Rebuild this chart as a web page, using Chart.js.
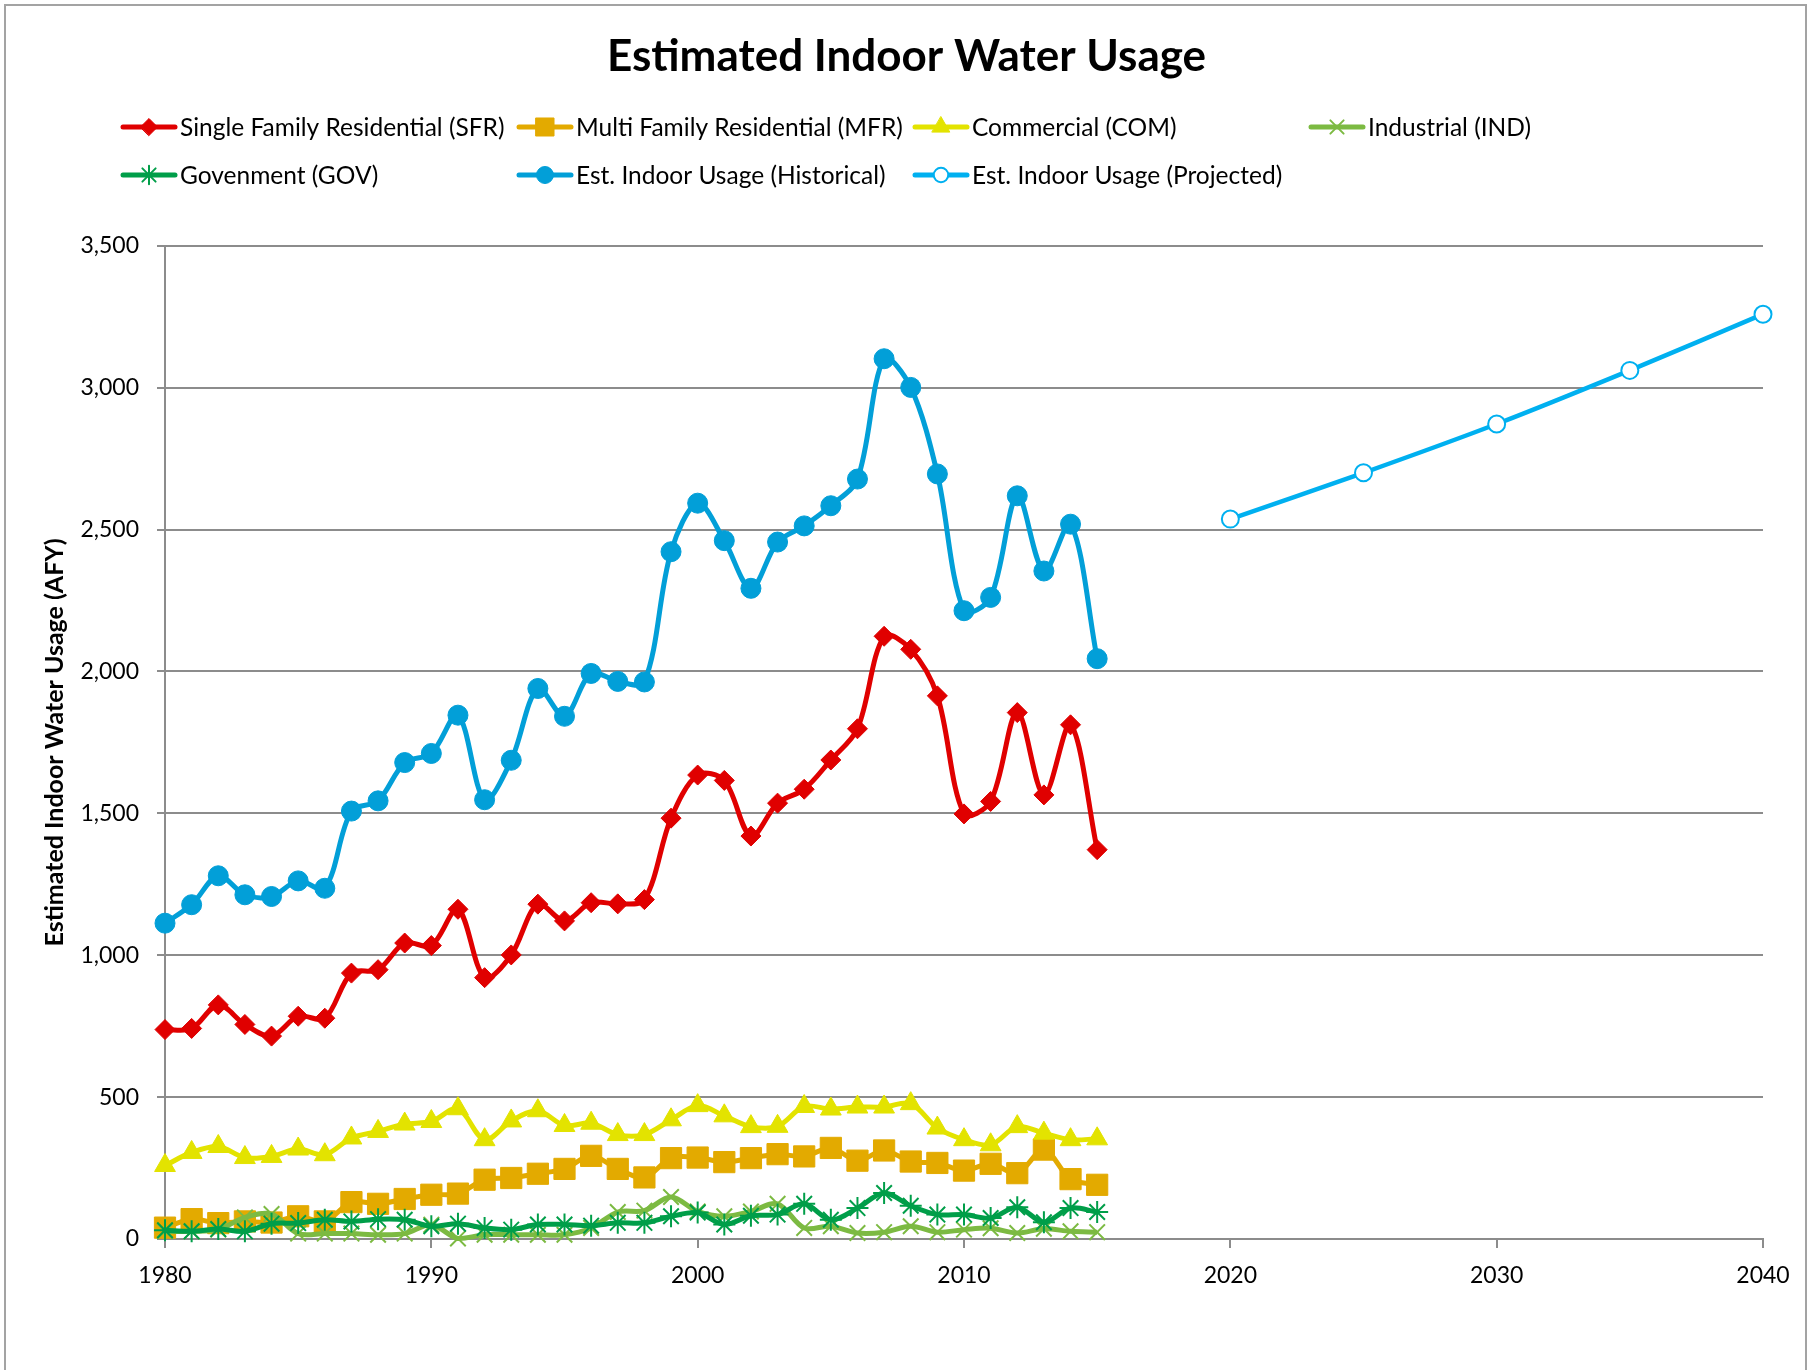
<!DOCTYPE html>
<html lang="en">
<head>
<meta charset="UTF-8">
<title>Estimated Indoor Water Usage</title>
<script src="https://cdn.jsdelivr.net/npm/chart.js"></script>
<style>
    body { margin: 0; background: #fff; }
    #wrap { width: 1813px; height: 1370px; }
</style>
</head>
<body>
<div id="wrap"><canvas id="chart1" width="1813" height="1370"></canvas></div>
<script>
// historical years (yearly) and projection years
const years = [1980, 1981, 1982, 1983, 1984, 1985, 1986, 1987, 1988, 1989,
               1990, 1991, 1992, 1993, 1994, 1995, 1996, 1997, 1998, 1999,
               2000, 2001, 2002, 2003, 2004, 2005, 2006, 2007, 2008, 2009,
               2010, 2011, 2012, 2013, 2014, 2015];
const projYears = [2020, 2025, 2030, 2035, 2040];

// AFY values
const sfr = [738, 742, 825, 756, 715, 785, 778, 937, 949, 1043,
             1034, 1162, 921, 1001, 1180, 1121, 1185, 1181, 1196, 1483,
             1635, 1616, 1420, 1536, 1585, 1688, 1798, 2124, 2078, 1914,
             1498, 1542, 1855, 1565, 1812, 1372];
const mfr = [40, 70, 56, 62, 58, 80, 62, 130, 124, 141,
             156, 160, 209, 215, 230, 247, 293, 247, 217, 285,
             287, 271, 285, 299, 291, 321, 276, 312, 273, 268,
             241, 265, 232, 315, 211, 191];
const com = [259, 305, 326, 287, 291, 317, 297, 356, 379, 405,
             414, 459, 350, 416, 452, 400, 408, 368, 368, 420,
             470, 434, 396, 397, 467, 458, 465, 465, 477, 391,
             350, 332, 396, 373, 350, 353];
const ind = [27, 27, 33, 76, 88, 19, 19, 19, 15, 19,
             50, 2, 15, 15, 15, 15, 39, 95, 100, 148,
             97, 80, 97, 124, 39, 45, 21, 24, 45, 24,
             33, 38, 21, 36, 27, 24];
const gov = [31, 27, 35, 27, 54, 56, 68, 62, 70, 68,
             45, 54, 39, 33, 51, 51, 47, 57, 57, 80,
             93, 51, 82, 86, 124, 68, 109, 162, 117, 86,
             86, 74, 112, 59, 109, 95];
const historical = [1113, 1178, 1280, 1213, 1207, 1262, 1236, 1508, 1544, 1679,
                    1711, 1846, 1548, 1687, 1940, 1842, 1993, 1965, 1963, 2422,
                    2593, 2461, 2293, 2456, 2513, 2584, 2678, 3102, 3001, 2696,
                    2214, 2261, 2619, 2354, 2519, 2045];
const projected = [2537, 2700, 2872, 3061, 3259];

const seriesNames = [
    'Single Family Residential (SFR)',
    'Multi Family Residential (MFR)',
    'Commercial (COM)',
    'Industrial (IND)',
    'Govenment (GOV)',
    'Est. Indoor Usage (Historical)',
    'Est. Indoor Usage (Projected)'
];

const FONT = 'Lato, "Open Sans", sans-serif';

function toPoints(xs, ys) {
    return xs.map((x, i) => ({ x: x, y: ys[i] }));
}

function series(i, xs, ys, color, style, radius, extra) {
    return Object.assign({
        label: seriesNames[i],
        data: toPoints(xs, ys),
        borderColor: color,
        backgroundColor: color,
        borderWidth: 5,
        tension: 0.33,
        pointStyle: style,
        pointRadius: radius,
        pointHoverRadius: radius,
        pointBackgroundColor: color,
        pointBorderColor: color,
        pointBorderWidth: 1,
        clip: false,
        order: 7 - i
    }, extra || {});
}

// excel-ish chart border, and title centred on the whole canvas
const frame = {
    id: 'frame',
    afterLayout(chart) {
        if (chart.titleBlock) {
            chart.titleBlock.left = 0;
            chart.titleBlock.right = chart.width;
            chart.titleBlock.width = chart.width;
        }
    },
    beforeDraw(chart) {
        const ctx = chart.ctx;
        ctx.save();
        ctx.fillStyle = '#fff';
        ctx.fillRect(0, 0, chart.width, chart.height);
        ctx.strokeStyle = '#a3a3a3';
        ctx.lineWidth = 2;
        ctx.strokeRect(5, 5, 1801, 1400);
        ctx.restore();
    }
};

// legend laid out in fixed columns like the original
const gridLegend = {
    id: 'gridLegend',
    afterDraw(chart) {
        const ctx = chart.ctx;
        const colX = [121, 517, 913, 1309];
        const rowY = [127, 175];
        ctx.save();
        ctx.font = '24.5px ' + FONT;
        ctx.textBaseline = 'middle';
        ctx.textAlign = 'left';
        chart.data.datasets.forEach((ds, i) => {
            const x = colX[i % 4];
            const y = rowY[Math.floor(i / 4)];
            ctx.strokeStyle = ds.borderColor;
            ctx.lineWidth = 5;
            ctx.lineCap = 'round';
            ctx.beginPath();
            ctx.moveTo(x + 2, y);
            ctx.lineTo(x + 54, y);
            ctx.stroke();
            ctx.fillStyle = ds.pointBackgroundColor;
            ctx.strokeStyle = ds.pointBorderColor;
            ctx.lineWidth = ds.pointBorderWidth;
            Chart.helpers.drawPoint(ctx, {
                pointStyle: ds.pointStyle,
                radius: ds.pointRadius * 0.85,
                borderWidth: ds.pointBorderWidth,
                rotation: 0
            }, x + 28, y);
            ctx.fillStyle = '#000';
            ctx.fillText(ds.label, x + 59, y + 1);
        });
        ctx.restore();
    }
};

const ctx = document.getElementById('chart1').getContext('2d');
const chart1 = new Chart(ctx, {
    type: 'line',
    data: {
        datasets: [
            series(0, years, sfr, '#e00000', 'rectRot', 10),
            series(1, years, mfr, '#e3aa00', 'rect', 15),
            series(2, years, com, '#e3e300', 'triangle', 12),
            series(3, years, ind, '#7cba42', 'crossRot', 11, { pointBorderWidth: 2 }),
            series(4, years, gov, '#009e49', 'star', 11, { pointBorderWidth: 2 }),
            series(5, years, historical, '#029fd8', 'circle', 10),
            series(6, projYears, projected, '#00b0f0', 'circle', 8.5, {
                borderWidth: 4.5,
                pointBackgroundColor: '#fff',
                pointBorderWidth: 2
            })
        ]
    },
    options: {
        responsive: false,
        devicePixelRatio: 1,
        animation: false,
        layout: { padding: { left: 0, right: 50, top: 0, bottom: 0 } },
        plugins: {
            legend: { display: false },
            tooltip: { enabled: false },
            title: {
                display: true,
                text: 'Estimated Indoor Water Usage',
                color: '#000',
                font: { family: FONT, size: 44, weight: 'bold' },
                padding: { top: 30, bottom: 163 }
            }
        },
        scales: {
            x: {
                type: 'linear',
                min: 1980,
                max: 2040,
                afterFit(s) { s.height = 131; },
                ticks: {
                    stepSize: 10,
                    maxRotation: 0,
                    padding: 14,
                    color: '#000',
                    font: { family: FONT, size: 23 },
                    callback: v => String(v)
                },
                grid: {
                    drawOnChartArea: false,
                    drawTicks: true,
                    tickLength: 9,
                    color: '#8c8c8c',
                    lineWidth: 2
                },
                border: { color: '#8c8c8c', width: 2 }
            },
            y: {
                min: 0,
                max: 3500,
                afterFit(s) { s.width = 165; },
                ticks: {
                    stepSize: 500,
                    padding: 18,
                    color: '#000',
                    font: { family: FONT, size: 23 }
                },
                grid: {
                    color: '#8c8c8c',
                    lineWidth: 2,
                    tickLength: 8
                },
                border: { color: '#8c8c8c', width: 2 },
                title: {
                    display: true,
                    text: 'Estimated Indoor Water Usage (AFY)',
                    color: '#000',
                    font: { family: FONT, size: 25, weight: 'bold' },
                    padding: { top: 40, bottom: 0 }
                }
            }
        }
    },
    plugins: [frame, gridLegend]
});
</script>
</body>
</html>
